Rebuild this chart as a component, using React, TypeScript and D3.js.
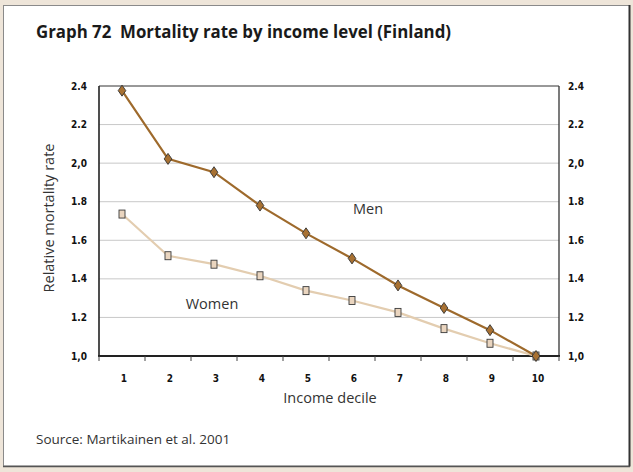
import React from "react";
import * as d3 from "d3";

const deciles = ["1", "2", "3", "4", "5", "6", "7", "8", "9", "10"];
const men = [2.376, 2.022, 1.953, 1.78, 1.636, 1.506, 1.366, 1.249, 1.134, 1.0];
const women = [1.736, 1.52, 1.476, 1.416, 1.339, 1.288, 1.226, 1.142, 1.066, 1.0];
const yTicks = [1.0, 1.2, 1.4, 1.6, 1.8, 2.0, 2.2, 2.4];
const yTickLabels = ["1,0", "1.2", "1.4", "1.6", "1.8", "2,0", "2.2", "2.4"];

const W = 633;
const H = 472;
const plot = { left: 99, right: 559, top: 86, bottom: 356 };

export default function App() {
  const x = d3.scaleBand<string>().domain(deciles).range([plot.left, plot.right]).padding(0);
  const y = d3.scaleLinear().domain([1.0, 2.4]).range([plot.bottom, plot.top]);
  const cx = (d: string) => (x(d) as number) + x.bandwidth() / 2;

  const line = d3
    .line<number>()
    .x((_, i) => cx(deciles[i]))
    .y((v) => y(v));

  const tickFont = "'Liberation Sans Narrow', 'DejaVu Sans Condensed', 'Roboto Condensed', sans-serif";
  const textFont = "'Open Sans', 'Noto Sans', sans-serif";

  const boundaries = d3.range(deciles.length + 1).map((i) => plot.left + i * x.bandwidth());

  return (
    <svg
      width={W}
      height={H}
      style={{ position: "absolute", left: 0, top: 0, display: "block" }}
      xmlns="http://www.w3.org/2000/svg"
    >
      <rect x={0} y={0} width={W} height={H} fill="#eee5d9" />
      <rect x={3.5} y={5.5} width={626} height={460.5} fill="#ffffff" stroke="#8a8a8a" strokeWidth={1} />
      <line x1={629.5} y1={5} x2={629.5} y2={466.5} stroke="#333" strokeWidth={2} />
      <line x1={3} y1={466.5} x2={630} y2={466.5} stroke="#555" strokeWidth={1.5} />

      <text
        x={36}
        y={38}
        fontFamily={textFont}
        fontWeight={700}
        fontSize={17.5}
        fill="#1a1a1a"
        textLength={415}
        lengthAdjust="spacingAndGlyphs"
        style={{ whiteSpace: "pre" }}
      >
        {"Graph 72  Mortality rate by income level (Finland)"}
      </text>

      {/* gridlines */}
      {yTicks.slice(1, -1).map((t) => (
        <line key={"g" + t} x1={plot.left} x2={plot.right} y1={y(t)} y2={y(t)} stroke="#c8c8c8" strokeWidth={1} />
      ))}

      {/* frame of plot */}
      <line x1={plot.left} x2={plot.right} y1={plot.top} y2={plot.top} stroke="#333" strokeWidth={1} />
      <line x1={plot.right} x2={plot.right} y1={plot.top} y2={plot.bottom} stroke="#333" strokeWidth={1.3} />
      <line x1={plot.left} x2={plot.left} y1={plot.top} y2={plot.bottom + 1} stroke="#222" strokeWidth={1.6} />
      <line x1={plot.left - 1} x2={plot.right + 1} y1={plot.bottom} y2={plot.bottom} stroke="#222" strokeWidth={2} />

      {/* x ticks */}
      {boundaries.map((b, i) => (
        <line key={"xt" + i} x1={b} x2={b} y1={plot.bottom} y2={plot.bottom + 5} stroke="#444" strokeWidth={1} />
      ))}

      {/* y tick labels */}
      {yTicks.map((t, i) => (
        <g key={"yl" + t}>
          <text
            x={87}
            y={y(t)}
            dy="0.35em"
            textAnchor="end"
            fontFamily={tickFont}
            fontWeight={700}
            fontSize={10}
            fill="#111"
          >
            {yTickLabels[i]}
          </text>
          <text
            x={568}
            y={y(t)}
            dy="0.35em"
            textAnchor="start"
            fontFamily={tickFont}
            fontWeight={700}
            fontSize={10}
            fill="#111"
          >
            {yTickLabels[i]}
          </text>
        </g>
      ))}

      {/* x tick labels */}
      {deciles.map((d) => (
        <text
          key={"xl" + d}
          x={cx(d) + 2}
          y={378}
          dy="0.35em"
          textAnchor="middle"
          fontFamily={tickFont}
          fontWeight={700}
          fontSize={10}
          fill="#111"
        >
          {d}
        </text>
      ))}

      {/* axis titles */}
      <text
        x={330}
        y={398}
        dy="0.35em"
        textAnchor="middle"
        fontFamily={textFont}
        fontSize={14.5}
        fill="#333"
      >
        Income decile
      </text>
      <text
        transform={`translate(49, 218) rotate(-90)`}
        textAnchor="middle"
        dy="0.35em"
        fontFamily={textFont}
        fontSize={14.5}
        fill="#333"
      >
        Relative mortality rate
      </text>

      {/* women series */}
      <path d={line(women) || ""} fill="none" stroke="#e3cdb0" strokeWidth={2.2} />
      {/* men series */}
      <path d={line(men) || ""} fill="none" stroke="#9e6a2c" strokeWidth={2.2} />

      {women.map((v, i) => (
        <rect
          key={"wm" + i}
          x={cx(deciles[i]) - 3}
          y={y(v) - 4}
          width={6}
          height={8}
          fill="#ead5bf"
          stroke="#3a3a3a"
          strokeWidth={0.9}
        />
      ))}
      {men.map((v, i) => {
        const px = cx(deciles[i]);
        const py = y(v);
        return (
          <path
            key={"mm" + i}
            d={`M${px},${py - 5.5}L${px + 3.8},${py}L${px},${py + 5.5}L${px - 3.8},${py}Z`}
            fill="#a87132"
            stroke="#333"
            strokeWidth={0.9}
          />
        );
      })}

      {/* series labels */}
      <text x={368} y={209} dy="0.35em" textAnchor="middle" fontFamily={textFont} fontSize={14.5} fill="#333">
        Men
      </text>
      <text x={212} y={304} dy="0.35em" textAnchor="middle" fontFamily={textFont} fontSize={14.5} fill="#333">
        Women
      </text>

      <text x={36} y={439} dy="0.35em" fontFamily={textFont} fontSize={13.5} fill="#333">
        Source: Martikainen et al. 2001
      </text>
    </svg>
  );
}
